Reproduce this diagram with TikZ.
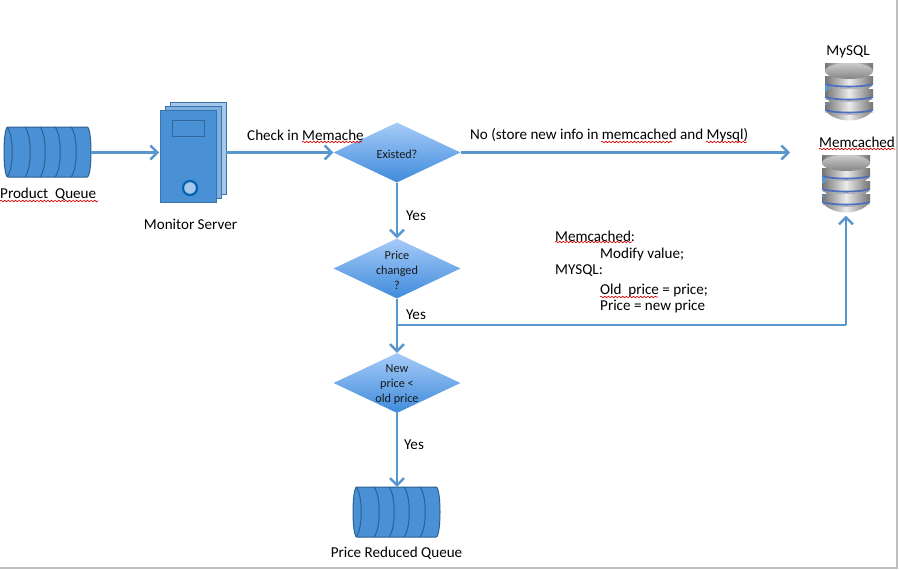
\documentclass[tikz,border=0pt]{standalone}
\usepackage{fontspec}
\setmainfont{Carlito}
\usetikzlibrary{shapes.geometric,arrows.meta,decorations.pathmorphing}
\definecolor{linkblue}{HTML}{5B97CF}
\definecolor{boxblue}{HTML}{4A90D4}
\definecolor{darkblue}{HTML}{2C5F92}
\definecolor{diatop}{HTML}{A6CBF8}
\definecolor{diabot}{HTML}{3F8BDB}
\definecolor{bandblue}{HTML}{4C6FBE}
\tikzset{
  x=1pt,y=-1pt,
  link/.style={draw=linkblue,line width=2.9pt,-{Straight Barb[length=7pt,width=14pt,line width=2.4pt]}},
  plainlink/.style={draw=linkblue,line width=2.9pt},
  dia/.style={diamond,draw=none,top color=diatop,bottom color=diabot,minimum width=127pt,minimum height=60pt,inner sep=0pt,aspect=2.1},
  txt/.style={font=\fontsize{15.1}{16}\selectfont,inner sep=0pt,text=black},
  diatxt/.style={font=\fontsize{12.2}{15}\selectfont,align=center,text=black!90,inner sep=0pt,yshift=-1.5pt},
  squig/.style={draw=red!85!black,line width=.65pt,decorate,decoration={snake,segment length=3.6pt,amplitude=.8pt}},
  ghost/.style={draw=none,fill=none,inner sep=0pt},
}
\newcommand{\queueshape}[2]{% left x, top y
  \begin{scope}[shift={(#1,#2)}]
    \fill[boxblue] (4,0) -- (83,0) .. controls (86,0) and (87,15) .. (87,25) .. controls (87,35) and (86,50) .. (83,50) -- (4,50) .. controls (1,50) and (0,35) .. (0,25) .. controls (0,15) and (1,0) .. (4,0) -- cycle;
    \draw[darkblue,line width=1pt] (4,0) -- (83,0) .. controls (86,0) and (87,15) .. (87,25) .. controls (87,35) and (86,50) .. (83,50) -- (4,50) .. controls (1,50) and (0,35) .. (0,25) .. controls (0,15) and (1,0) .. (4,0);
    \foreach \q in {3,21,36,51,67}
      \draw[darkblue,line width=1pt] (\q,0) .. controls (\q+7,8) and (\q+7,42) .. (\q,50);
  \end{scope}}
\newcommand{\dbshape}[2]{% centre x, top y
  \begin{scope}[shift={(#1,#2)}]
    \foreach \a/\b in {47/60,34/47,21/34,8/21}{
      \shade[left color=black!55,right color=black!55,middle color=black!8] (-24,\a-8) -- (24,\a-8) -- (24,\a) .. controls (14,\b+1) and (-14,\b+1) .. (-24,\a) -- cycle;
    }
    \foreach \a in {21,34,47}{
      \draw[bandblue,line width=1.8pt] (-24,\a) .. controls (-12,\a+3.5) and (12,\a+3.5) .. (24,\a);
      \draw[black!35,line width=.5pt] (-24,\a+2) .. controls (-12,\a+5.5) and (12,\a+5.5) .. (24,\a+2);
    }
    \shade[top color=black!20,bottom color=black!48] (0,8) ellipse [x radius=24,y radius=8];
    \fill[linkblue] (-24,21) -- (-19,25) -- (-24,29) -- cycle;
    \fill[linkblue] (-24,40) rectangle (-22,42);
  \end{scope}}
\begin{document}
\begin{tikzpicture}
\useasboundingbox (0,0) rectangle (899,570);
\fill[white] (0,0) rectangle (899,570);
\draw[black!25,line width=1.2pt] (0,568) -- (897,568) -- (897,0);

% anchors (sized, invisible nodes)
\node[ghost,minimum width=87pt,minimum height=50pt] (pq) at (47,152.5) {};
\node[ghost,minimum width=88pt,minimum height=50pt] (rq) at (397,512) {};
\node[ghost,minimum width=66pt,minimum height=100pt] (srv) at (193,152.5) {};
\node[ghost,minimum width=48pt,minimum height=60pt] (mysql) at (849,93) {};
\node[ghost,minimum width=48pt,minimum height=61pt] (memc) at (846,185) {};

\queueshape{4}{127}
\queueshape{353}{487}

% server
\fill[boxblue!50!white,draw=boxblue!80!black,line width=.5pt] (170,102) rectangle (226,194);
\fill[boxblue!72!white,draw=boxblue!80!black,line width=.5pt] (165,106) rectangle (221,198);
\fill[boxblue,draw=boxblue!80!black,line width=.5pt] (160,110) rectangle (216,202);
\draw[darkblue!85!boxblue,line width=1.8pt,fill=boxblue] (172.5,120.5) rectangle (204.5,136.5);
\draw[draw=blue!45!cyan!70!black,line width=2.2pt,fill=boxblue!50!white] (190,188) circle [radius=7];

\dbshape{849}{63}
\dbshape{846}{155}

% decisions
\node[dia,label={[diatxt]center:Existed?}] (d1) at (397,152.5) {};
\node[dia,label={[diatxt]center:Price\\changed\\?}] (d2) at (397,268.5) {};
\node[dia,label={[diatxt]center:New\\price <\\old price}] (d3) at (397,383) {};

% connectors
\coordinate (storeEnd) at (790,152.5);
\coordinate (branch) at (397,325);
\coordinate (corner) at (846,325);
\draw[link] (pq.east) -- (srv.west -| 159,152.5);
\draw[link] (srv.east) -- (d1.west);
\draw[link] (d1.east) -- (storeEnd);
\draw[link] (d1.south) -- (d2.north);
\draw[link] (d2.south) -- (d3.north);
\draw[link] (d3.south) -- (rq.north);
\draw[plainlink] (branch) -- (corner);
\draw[link] (corner) -- (memc.south);

% labels
\node[txt,anchor=west] (t1) at (0,194) {Product\ \ Queue};
\node[txt] (t2) at (190.5,224) {Monitor Server};
\node[txt,anchor=west] (t3) at (247,135) {Check in Memache};
\node[txt,anchor=west] (t4) at (470,135) {No (store new info in memcached and Mysql)};
\node[txt] (t5) at (848,52) {MySQL};
\node[txt] (t6) at (857,142) {Memcached};
\node[txt,anchor=west] (t7) at (406,216) {Yes};
\node[txt,anchor=west] (t8) at (406,315) {Yes};
\node[txt,anchor=west] (t9) at (404,445) {Yes};
\node[txt] (t10) at (396.5,553) {Price Reduced Queue};
\node[txt,anchor=west] (n1) at (555,236) {Memcached:};
\node[txt,anchor=west] (n2) at (600,254) {Modify value;};
\node[txt,anchor=west] (n3) at (555,271) {MYSQL:};
\node[txt,anchor=west] (n4) at (600,290) {Old\ \ price = price;};
\node[txt,anchor=west] (n5) at (600,307) {Price = new price};

% spell-check squiggles
\draw[squig] (0,201) -- (98,201);
\draw[squig] (302,142) -- (362,142);
\draw[squig] (601,142) -- (672,142);
\draw[squig] (706,142) -- (747,142);
\draw[squig] (819,149) -- (895,149);
\draw[squig] (555,242) -- (632,242);
\draw[squig] (600,297) -- (658,297);
\end{tikzpicture}
\end{document}
